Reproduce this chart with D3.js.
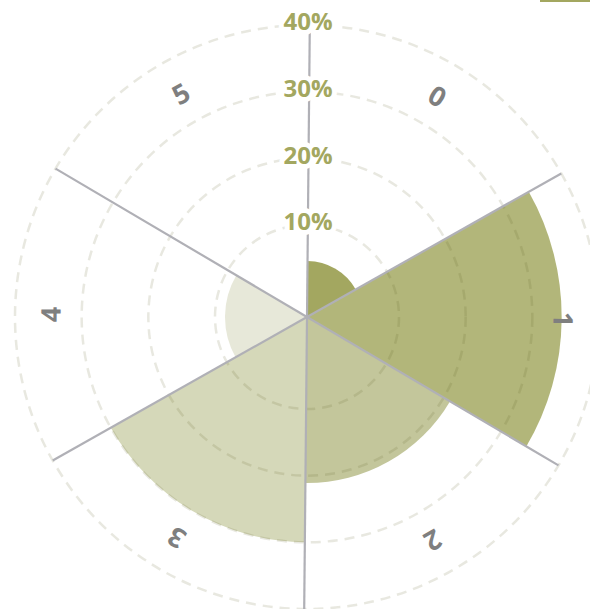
<!DOCTYPE html>
<html>
<head>
<meta charset="utf-8">
<script src="https://cdn.jsdelivr.net/npm/d3@7"></script>
<style>
  html, body { margin: 0; padding: 0; background: #fff; }
  svg { display: block; }
</style>
</head>
<body>
<svg id="chart" width="590" height="609"></svg>
<script>
// ---- data ----
const categories = ["0", "1", "2", "3", "4", "5"];
const values = [4.6, 34.4, 21.1, 30.0, 8.5, 0];
const colors = ["#a3a760", "#b2b67a", "#c3c69b", "#d5d8b9", "#e7e8d9", "#f1f2e8"];
const tickValues = [10, 20, 30, 40];
const tickLabels = ["10%", "20%", "30%", "40%"];

// ---- layout ----
const width = 590, height = 609;
const cx = 307, cy = 317;
const outerR = 292;
const rot = 0.55 * Math.PI / 180;

const svg = d3.select("#chart");
const g = svg.append("g").attr("transform", `translate(${cx},${cy})`);

const r = d3.scaleLinear().domain([-3.8, 40]).range([0, outerR]);
const angle = d3.scaleBand().domain(categories).range([rot, rot + 2 * Math.PI]);

// wedges
const arc = d3.arc()
  .innerRadius(0)
  .outerRadius(d => r(d.v))
  .startAngle(d => angle(d.c))
  .endAngle(d => angle(d.c) + angle.bandwidth());

const data = categories.map((c, i) => ({ c, v: values[i], col: colors[i] }));
g.append("g").selectAll("path")
  .data(data.filter(d => d.v > 0))
  .join("path")
  .attr("d", arc)
  .attr("fill", d => d.col);

// grid circles
g.append("g").selectAll("circle")
  .data(tickValues)
  .join("circle")
  .attr("r", d => r(d))
  .attr("fill", "none")
  .attr("stroke", "#5a5a20")
  .attr("stroke-opacity", 0.14)
  .attr("stroke-width", 2.5)
  .attr("stroke-dasharray", "10,7");

// spokes
g.append("g").selectAll("line")
  .data(categories)
  .join("line")
  .attr("x1", 0).attr("y1", 0)
  .attr("x2", d => outerR * Math.sin(angle(d)))
  .attr("y2", d => -outerR * Math.cos(angle(d)))
  .attr("stroke", "#b0b0b6")
  .attr("stroke-width", 2.2);

// radial tick labels
g.append("g").selectAll("text")
  .data(tickValues)
  .join("text")
  .attr("x", 1)
  .attr("y", d => -r(d) - 3)
  .attr("dy", "0.35em")
  .attr("text-anchor", "middle")
  .attr("font-family", "'Open Sans', sans-serif")
  .attr("font-weight", "bold")
  .attr("font-size", 24)
  .attr("fill", "#a3a760")
  .attr("stroke", "#fff")
  .attr("stroke-width", 10)
  .attr("stroke-linejoin", "round")
  .attr("paint-order", "stroke")
  .text((d, i) => tickLabels[i]);

// category labels
const labR = 256;
g.append("g").selectAll("text")
  .data(categories)
  .join("text")
  .attr("transform", d => {
    const a = angle(d) + angle.bandwidth() / 2;
    const x = labR * Math.sin(a), y = -labR * Math.cos(a);
    return `translate(${x},${y}) rotate(${a * 180 / Math.PI})`;
  })
  .attr("dy", "0.35em")
  .attr("text-anchor", "middle")
  .attr("font-family", "'Open Sans', sans-serif")
  .attr("font-weight", "bold")
  .attr("font-size", 27)
  .attr("fill", "#7f7f7f")
  .text(d => d);

// partial legend/marker at top-right
svg.append("rect")
  .attr("x", 540).attr("y", 0)
  .attr("width", 50).attr("height", 2)
  .attr("fill", "#a3a760");
</script>
</body>
</html>
